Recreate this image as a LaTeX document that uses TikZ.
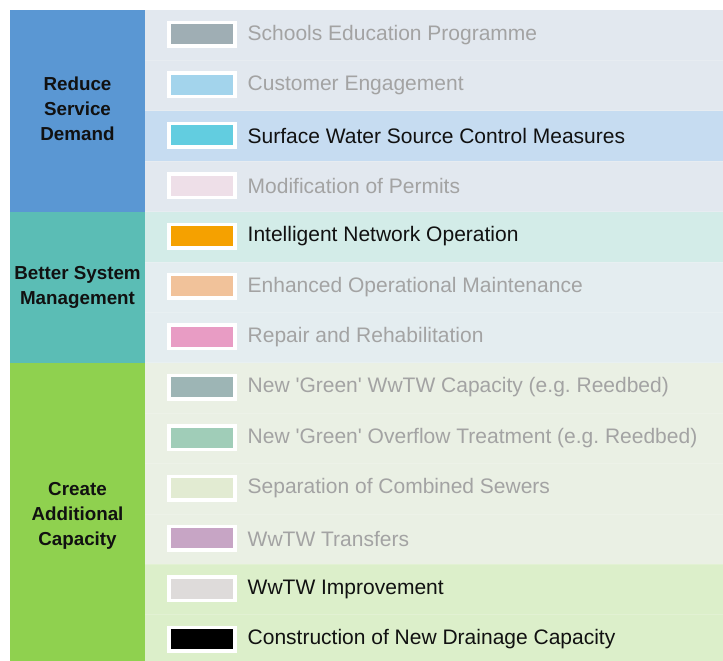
\documentclass[tikz,border=0pt]{standalone}
\usepackage{fontspec}
\setmainfont{Liberation Sans}
\frenchspacing
\definecolor{gBlue}{HTML}{5A97D3}
\definecolor{gTeal}{HTML}{5BBDB5}
\definecolor{gGreen}{HTML}{8FD14F}
\definecolor{bgA}{HTML}{E2E8EF}
\definecolor{bgB}{HTML}{C6DCF1}
\definecolor{bgC}{HTML}{D3ECE8}
\definecolor{bgD}{HTML}{E4EDF0}
\definecolor{bgE}{HTML}{EAF0E4}
\definecolor{bgF}{HTML}{DCEFCA}
\definecolor{sw1}{HTML}{9FAEB4}
\definecolor{sw2}{HTML}{A3D4EC}
\definecolor{sw3}{HTML}{62CDE0}
\definecolor{sw4}{HTML}{EEDFE8}
\definecolor{sw5}{HTML}{F5A100}
\definecolor{sw6}{HTML}{F1C29A}
\definecolor{sw7}{HTML}{E89CC4}
\definecolor{sw8}{HTML}{9DB5B5}
\definecolor{sw9}{HTML}{A0CDB8}
\definecolor{sw10}{HTML}{E2EBD2}
\definecolor{sw11}{HTML}{C7A5C5}
\definecolor{sw12}{HTML}{DEDBDA}
\definecolor{sw13}{HTML}{000000}
\definecolor{dimtext}{HTML}{A3A3A3}
\definecolor{ontext}{HTML}{111111}
\begin{document}
\begin{tikzpicture}[x=1pt,y=-1pt,
  swframe/.style={fill=white, draw=none, minimum width=70pt, minimum height=27pt, inner sep=0pt},
  swinner/.style={draw=none, minimum width=62pt, minimum height=20pt, inner sep=0pt},
  itemtext/.style={anchor=west, inner sep=0pt, font=\fontsize{21}{24}\selectfont},
  grouptext/.style={align=center, inner sep=0pt, text=ontext, font=\fontsize{18.8}{25}\selectfont\bfseries}]
\useasboundingbox (0,0) rectangle (723,661);
\fill[white] (0,0) rectangle (723,661);
\def\rh{50.4}
% right panel row backgrounds
\fill[bgA] (145,10) rectangle (723,{10+2*\rh});
\fill[bgB] (145,{10+2*\rh}) rectangle (723,{10+3*\rh});
\fill[bgA] (145,{10+3*\rh}) rectangle (723,{10+4*\rh});
\fill[bgC] (145,{10+4*\rh}) rectangle (723,{10+5*\rh});
\fill[bgD] (145,{10+5*\rh}) rectangle (723,{10+7*\rh});
\fill[bgE] (145,{10+7*\rh}) rectangle (723,{10+11*\rh});
\fill[bgF] (145,{10+11*\rh}) rectangle (723,661);
% faint row separators
\foreach \k in {1,...,12} {
  \draw[white, opacity=0.18, line width=1pt] (145,{10+\k*\rh}) -- (723,{10+\k*\rh});
}
% group column
\fill[gBlue] (10,10) rectangle (145,{10+4*\rh});
\fill[gTeal] (10,{10+4*\rh}) rectangle (145,{10+7*\rh});
\fill[gGreen] (10,{10+7*\rh}) rectangle (145,661);
\node[grouptext] (gReduce) at (77.5,{10+2*\rh-2}) {Reduce\\Service\\Demand};
\node[grouptext] (gBetter) at (77.5,{10+5.5*\rh}) {Better System\\Management};
\node[grouptext] (gCreate) at (77.5,{(10+7*\rh+661)/2+4}) {Create\\Additional\\Capacity};
% rows
\foreach \i/\tc/\txt in {
  1/dimtext/Schools Education Programme,
  2/dimtext/Customer Engagement,
  3/ontext/Surface Water Source Control Measures,
  4/dimtext/Modification of Permits,
  5/ontext/Intelligent Network Operation,
  6/dimtext/Enhanced Operational Maintenance,
  7/dimtext/Repair and Rehabilitation,
  8/dimtext/New \textquotesingle Green\textquotesingle{} WwTW Capacity (e.g. Reedbed),
  9/dimtext/New \textquotesingle Green\textquotesingle{} Overflow Treatment (e.g. Reedbed),
  10/dimtext/Separation of Combined Sewers,
  11/dimtext/WwTW Transfers,
  12/ontext/WwTW Improvement,
  13/ontext/Construction of New Drainage Capacity} {
  \node[swframe] (s\i) at (202,{10+(\i-0.5)*\rh-0.8}) {};
  \node[swinner, fill=sw\i] (c\i) at (s\i) {};
  \node[itemtext, text=\tc] (t\i) at (247.5,{10+(\i-0.5)*\rh-0.5}) {\txt};
}
\end{tikzpicture}
\end{document}
